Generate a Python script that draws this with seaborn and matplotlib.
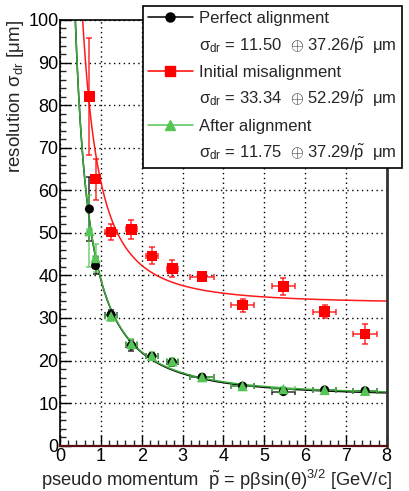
import numpy as np
import pandas as pd
import matplotlib
matplotlib.use("Agg")
import matplotlib.pyplot as plt
from matplotlib.lines import Line2D
import seaborn as sns

# binned pseudo momentum (bin means) and their spreads
p_mean = [0.72, 0.87, 1.25, 1.75, 2.25, 2.75, 3.48, 4.47, 5.47, 6.48, 7.47]
p_err = [0.06, 0.06, 0.14, 0.14, 0.14, 0.14, 0.29, 0.29, 0.29, 0.29, 0.29]

# resolution per bin [um]
perfect = [55.6, 42.3, 30.8, 23.6, 21.0, 19.6, 16.1, 14.0, 12.7, 13.1, 12.9]
perfect_err = [7.5, 2.0, 1.0, 1.3, 0.8, 0.8, 0.5, 0.5, 0.5, 0.4, 0.4]
initial = [82.0, 62.6, 50.2, 50.8, 44.6, 41.6, 39.7, 33.0, 37.4, 31.5, 26.2]
initial_err = [13.7, 4.8, 1.8, 2.3, 2.0, 2.0, 1.0, 1.5, 2.0, 1.5, 2.3]
after = [50.4, 44.1, 30.4, 23.9, 21.1, 19.8, 16.1, 14.0, 13.3, 13.1, 12.9]
after_err = [8.5, 3.2, 1.0, 1.2, 0.8, 0.8, 0.5, 0.5, 0.5, 0.4, 0.4]

# fit parameters: sigma = a (+) b/p
fit_a = [11.50, 33.34, 11.75]
fit_b = [37.26, 52.29, 37.29]

names = ["Perfect alignment", "Initial misalignment", "After alignment"]
colors = ["black", "#ff0000", "#55c555"]
line_colors = ["black", "#ff1a1a", "#3cab3c"]
markers = ["o", "s", "^"]
sizes = [6.5, 7.5, 7.5]

sns.set_theme(style="white")
plt.rcParams["font.family"] = ["Liberation Sans", "DejaVu Sans"]
plt.rcParams["mathtext.fontset"] = "custom"
plt.rcParams["mathtext.rm"] = "Liberation Sans"
plt.rcParams["mathtext.it"] = "Liberation Sans:italic"

fig = plt.figure(figsize=(4.09, 4.91), dpi=100)
ax = fig.add_axes([0.1467, 0.0923, 0.7988, 0.867])

series = [perfect, initial, after]
errors = [perfect_err, initial_err, after_err]
order = [1, 0, 2]  # red first, green on top

grid_p = np.linspace(0.3, 8, 400)
for i in order:
    a, b = fit_a[i], fit_b[i]
    curve = pd.DataFrame({"p": grid_p, "sigma": np.sqrt(a ** 2 + (b / grid_p) ** 2)})
    sns.lineplot(data=curve, x="p", y="sigma", color=line_colors[i], lw=1.1, ax=ax, zorder=2)

for i in order:
    df = pd.DataFrame({"p": p_mean, "sigma": series[i]})
    ax.errorbar(p_mean, series[i], xerr=p_err, yerr=errors[i], fmt="none",
                ecolor=colors[i], elinewidth=1.2, capsize=2.5, capthick=1.2,
                alpha=0.75, zorder=3)
    sns.scatterplot(data=df, x="p", y="sigma", color=colors[i], marker=markers[i],
                    s=sizes[i] ** 2, edgecolor="none", ax=ax, zorder=4)

ax.set_xlim(0, 8)
ax.set_ylim(0, 100)
ax.set_xticks(range(0, 9))
ax.set_yticks(range(0, 101, 10))
ax.set_xticks(np.arange(0, 8.01, 0.2), minor=True)
ax.set_yticks(range(0, 101, 2), minor=True)
ax.tick_params(axis="both", which="major", direction="in", length=8, width=1,
               labelsize=13, colors="black", bottom=True, left=True)
ax.tick_params(axis="both", which="minor", direction="in", length=4.5, width=1,
               bottom=True, left=True)
ax.tick_params(axis="y", pad=1)
ax.tick_params(axis="x", pad=1.5)
ax.grid(True, which="major", color="black", linestyle=(0, (1, 2.5)), linewidth=1)
for side in ["top", "left", "right", "bottom"]:
    ax.spines[side].set_color("black")
    ax.spines[side].set_linewidth(1.2)
ax.spines["right"].set_color("#333333")
ax.spines["right"].set_linewidth(2)
ax.spines["bottom"].set_color("#5a1010")
ax.spines["bottom"].set_linewidth(1.6)

ax.set_xlabel(r"pseudo momentum  $\tilde{\rm p}$ = pβsin(θ)$^{3/2}$ [GeV/c]",
              fontsize=13.2, loc="right", labelpad=2)
ax.xaxis.label.set_x(1.016)
ax.set_ylabel(r"resolution σ$_{\rm dr}$ [μm]", fontsize=13.5, loc="top")
ax.yaxis.set_label_coords(-0.104, 1.0)

handles = []
labels = []
blank = Line2D([], [], linestyle="none")
for i in range(3):
    handles.append(Line2D([], [], color=colors[i], marker=markers[i],
                          markersize=sizes[i], lw=1.1))
    labels.append(names[i])
    handles.append(blank)
    labels.append(r"σ$_{\rm dr}$ = %.2f  $\oplus$ %.2f/$\tilde{\rm p}$  μm" % (fit_a[i], fit_b[i]))

leg = fig.legend(handles, labels, loc="upper right",
                 bbox_to_anchor=(402 / 409, 1 - 6 / 491), bbox_transform=fig.transFigure,
                 fontsize=12, frameon=True, fancybox=False, framealpha=1,
                 edgecolor="black", handlelength=2.7, handletextpad=0.4,
                 labelspacing=0.56, borderpad=0.3, borderaxespad=0)
leg.get_frame().set_linewidth(1.2)
leg.set_zorder(10)

fig.savefig("out.png", dpi=100)
